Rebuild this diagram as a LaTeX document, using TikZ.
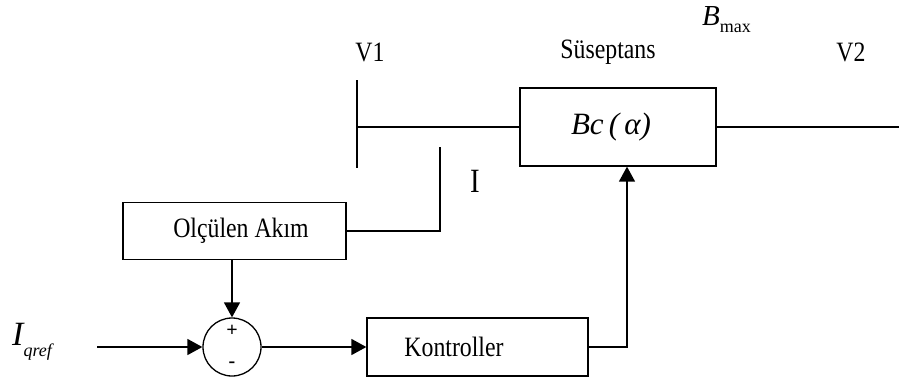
\documentclass[tikz,border=0pt]{standalone}
\usepackage{fontspec}
\setmainfont{Liberation Serif}
\newfontfamily\lblfont[FakeStretch=0.85]{Liberation Serif}
\usetikzlibrary{arrows.meta}
\begin{document}
\begin{tikzpicture}[x=1pt,y=-1pt,
  box/.style={draw,line width=1.3pt,rectangle,inner sep=0pt},
  lbl/.style={font=\lblfont\fontsize{28}{30}\selectfont,inner sep=0pt},
  wire/.style={line width=1.5pt},
  sig/.style={wire,-{Triangle[length=15pt,width=16pt]}},
]
\path[use as bounding box] (0,0) rectangle (899,381);
% boxes
\node[box,minimum width=196pt,minimum height=78pt] (bc) at (618,127) {};
\node[inner sep=0pt,font=\itshape\fontsize{31}{33}\selectfont] (bctext) at (611,127) {Bc\,(\,α)};
\node[box,minimum width=223pt,minimum height=57pt] (olc) at (234.5,231) {};
\node[lbl] (olctext) at (241,231) {Olçülen Akım};
\node[box,minimum width=221pt,minimum height=58pt] (kont) at (477.5,347) {};
\node[lbl] (konttext) at (454,347) {Kontroller};
\node[draw,circle,line width=1.3pt,minimum size=58pt,inner sep=0pt] (sum) at (232,347) {};
\node[inner sep=0pt,font=\bfseries\fontsize{20}{20}\selectfont] (plus) at (232,331) {+};
\node[inner sep=0pt,font=\bfseries\fontsize{20}{20}\selectfont] (minus) at (232,365) {-};
% labels
\node[lbl] (v1) at (370,52) {V1};
\node[lbl] (sus) at (608,52) {Süseptans};
\node[lbl] (v2) at (851,52) {V2};
\node[lbl,font=\lblfont\fontsize{34}{34}\selectfont] (ilbl) at (475,181) {I};
\node[inner sep=0pt,anchor=west] (bmax) at (702,20) {{\fontsize{29}{29}\selectfont\itshape B}\raisebox{-7pt}{\fontsize{18}{18}\selectfont max}};
\node[inner sep=0pt,anchor=west] (iqref) at (12,342) {{\fontsize{34}{34}\selectfont\itshape I}\raisebox{-11pt}{\fontsize{18}{18}\selectfont\itshape qref}};
% bus and power line
\coordinate (bt) at (357,80);
\coordinate (bb) at (357,168);
\coordinate (bj) at (357,127);
\coordinate (v2end) at (899,127);
\draw[wire] (bt) -- (bb);
\draw[wire] (bj) -- (bc.west);
\draw[wire] (bc.east) -- (v2end);
% measurement
\coordinate (mt) at (440,147);
\draw[wire] (mt) |- (olc.east);
% control loop
\draw[sig] (olc.south -| sum.north) -- (sum.north);
\coordinate (iq) at (97,347);
\draw[sig] (iq) -- (sum.west);
\draw[sig] (sum.east) -- (kont.west);
\coordinate (kc) at (627,347);
\draw[sig] (kont.east) -- (kc) -- (kc |- bc.south);
\end{tikzpicture}
\end{document}
